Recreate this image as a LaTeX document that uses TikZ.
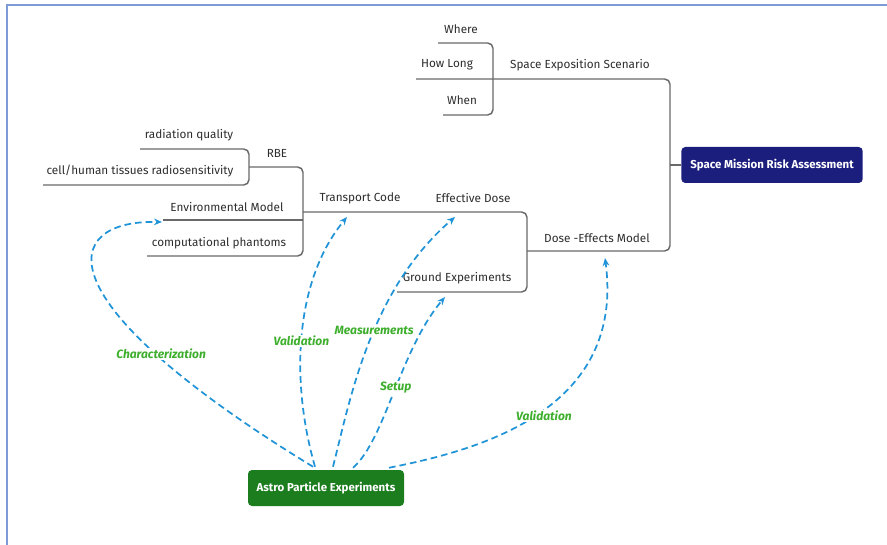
\documentclass[tikz,border=0pt]{standalone}
\usepackage{fontspec}
\setmainfont{Fira Sans}
\usetikzlibrary{arrows.meta,calc}

\definecolor{frameblue}{RGB}{125,155,215}
\definecolor{linegray}{RGB}{105,105,105}
\definecolor{textgray}{RGB}{45,45,45}
\definecolor{riskblue}{RGB}{28,30,125}
\definecolor{astrogreen}{RGB}{28,125,30}
\definecolor{labelgreen}{RGB}{62,175,45}
\definecolor{arrowblue}{RGB}{32,148,215}

\begin{document}
\begin{tikzpicture}[
          x=0.75pt, y=-0.75pt,
          topic/.style={font=\fontsize{8.8}{10}\selectfont, text=textgray, inner sep=1pt},
          branch/.style={draw=linegray, line width=1.1pt, rounded corners=4pt},
          mainbox/.style={rounded corners=3pt, text=white, inner sep=2pt,
                          font=\fontsize{8.6}{10}\selectfont\bfseries, minimum height=27pt},
          link/.style={draw=arrowblue, dash pattern=on 5pt off 3pt, line width=1.3pt,
                       -{Stealth[length=6pt,width=5pt]}},
          linklabel/.style={font=\fontsize{9}{10}\selectfont\bfseries\itshape, text=labelgreen,
                            fill=white, inner sep=1pt}
        ]

        \useasboundingbox (0,0) rectangle (887,545);
        \draw[frameblue, line width=1.2pt] (7,545) -- (7,5) -- (887,5);

        % scenario branch
        \node[topic] (where)    at (461,29)  {Where};
        \node[topic] (howlong)  at (447,65)  {How Long};
        \node[topic] (when)     at (462,100) {When};
        \node[topic] (scenario) at (580,65)  {Space Exposition Scenario};

        % RBE and transport branch
        \node[topic] (quality)   at (189,135) {radiation quality};
        \node[topic] (tissues)   at (140,171) {cell/human tissues radiosensitivity};
        \node[topic] (rbe)       at (277,153) {RBE};
        \node[topic] (envmodel)  at (227,207) {Environmental Model};
        \node[topic] (phantoms)  at (219,243) {computational phantoms};
        \node[topic] (transport) at (360,198) {Transport Code};
        \node[topic] (effdose)   at (473,198) {Effective Dose};
        \node[topic] (ground)    at (457,278) {Ground Experiments};
        \node[topic] (doseeff)   at (597,238) {Dose -Effects Model};

        \node[mainbox, fill=riskblue, minimum width=136pt] (risk) at (772,165) {Space Mission Risk Assessment};
        \node[mainbox, fill=astrogreen, minimum width=117pt] (astro) at (326,488) {Astro Particle Experiments};

        % mind map lines
        \draw[branch] (438,43) -- (493,43) -- (493,115) -- (443,115);
        \draw[branch] (416,79) -- (670,79) -- (670,251) -- (527,251);
        \draw[branch] (670,165) -- (risk.west);
        \draw[branch] (140,149) -- (249,149) -- (249,185) -- (43,185);
        \draw[branch] (249,167) -- (303,167) -- (303,256) -- (147,256);
        \draw[branch] (163,220) -- (303,220);
        \draw[branch] (303,212) -- (527,212) -- (527,292) -- (397,292);

        % arrow ends
        \coordinate (envtip)    at (162,222);
        \coordinate (transtip)  at (347,217);
        \coordinate (dosetip)   at (455,217);
        \coordinate (groundtip) at (445,297);
        \coordinate (efftip)    at (605,258);

        \draw[link] ($(astro.north)+(-13,-3)$) .. controls (40,300) and (60,220) .. (envtip)
            node[linklabel, pos=0.26, xshift=4pt] {Characterization};
        \draw[link] ($(astro.north)+(-11,-3)$) .. controls (290,380) and (295,280) .. (transtip)
            node[linklabel, pos=0.47] {Validation};
        \draw[link] ($(astro.north)+(7,-3)$) .. controls (350,400) and (370,290) .. (dosetip)
            node[linklabel, pos=0.55] {Measurements};
        \draw[link] ($(astro.north)+(27,-2)$) .. controls (385,440) and (400,350) .. (groundtip)
            node[linklabel, pos=0.52] {Setup};
        \draw[link] ($(astro.north)+(63,-2)$) .. controls (480,450) and (625,410) .. (efftip)
            node[linklabel, pos=0.5, xshift=4pt, yshift=-2pt] {Validation};

\end{tikzpicture}
\end{document}
